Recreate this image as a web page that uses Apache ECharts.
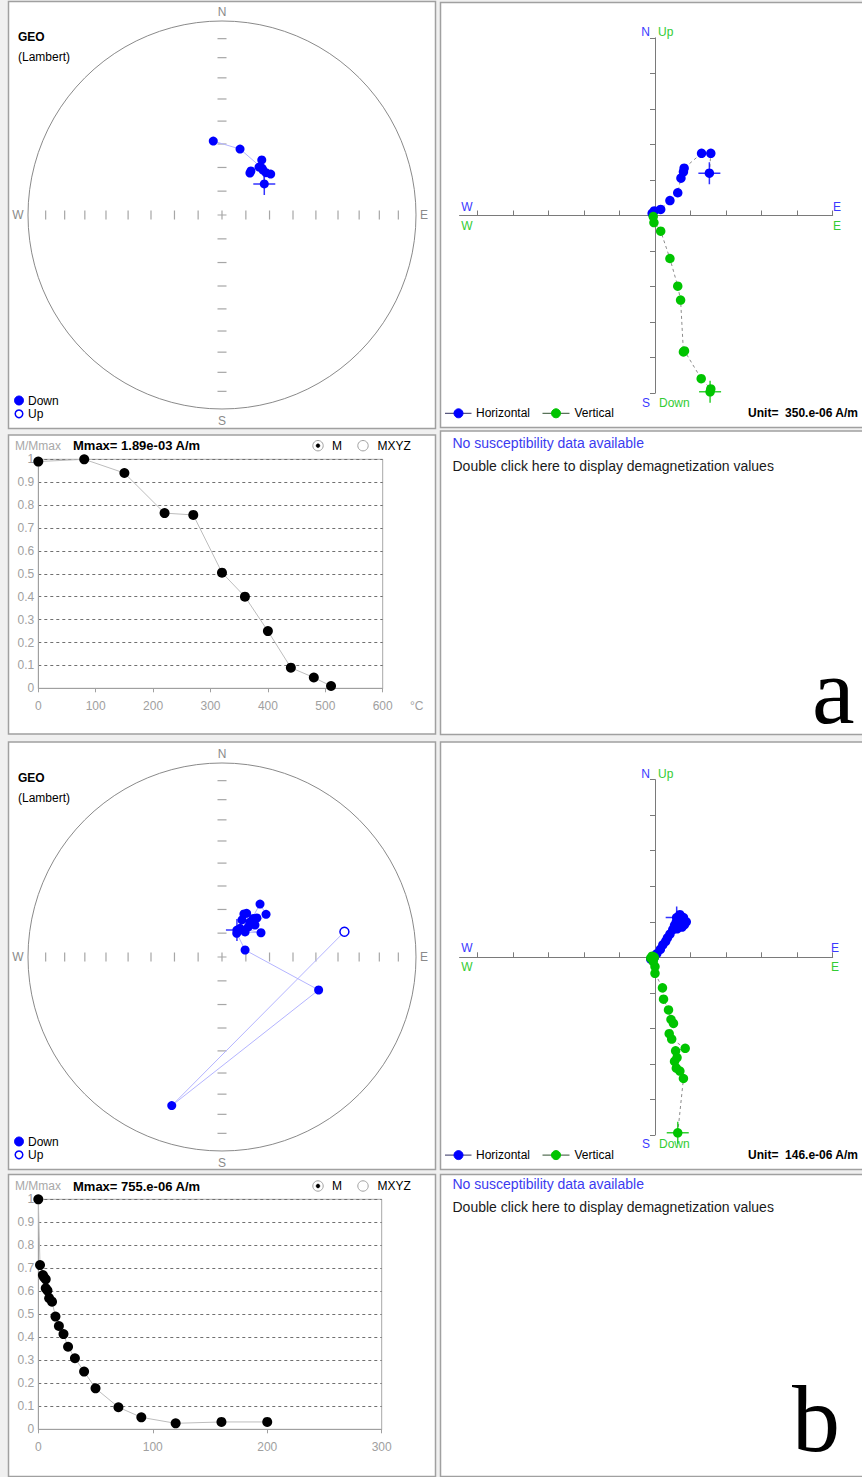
<!DOCTYPE html>
<html><head><meta charset="utf-8">
<script src="https://cdn.jsdelivr.net/npm/echarts@6/dist/echarts.min.js"></script>
<style>html,body{margin:0;padding:0;background:#f0f0f0;}#c{width:862px;height:1477px;}</style>
</head><body><div id="c"></div>
<script>
// ---------------- DATA ----------------
// Equal-area tick radii (10° .. 80° inclination), in units of the net radius
const stereoTicks = [0.123, 0.245, 0.366, 0.484, 0.598, 0.707, 0.811, 0.909];

// Specimen a : equal-area net positions [east, north] (net radius = 1), first = NRM
const stereoA = [[0.218,0.160],[0.211,0.232],[0.191,0.247],[0.149,0.227],[0.144,0.216],[0.205,0.284],
                 [0.227,0.218],[0.251,0.211],[0.206,0.242],[0.093,0.340],[-0.045,0.381]];
const stereoAUp = [0,0,0,0,0,0,0,0,0,0,0];
// Zijderveld (units of 350e-6 A/m): horizontal [E, N], vertical [E, Up]
const zijAH = [[1.53,1.19],[1.57,1.75],[1.31,1.75],[0.82,1.33],[0.80,1.23],[0.73,1.05],[0.64,0.64],
               [0.42,0.42],[0.16,0.17],[-0.02,0.13],[-0.08,0.06]];
const zijAV = [[1.55,-4.96],[1.57,-4.88],[1.30,-4.59],[0.83,-3.81],[0.80,-3.84],[0.72,-2.38],[0.64,-1.99],
               [0.42,-1.21],[0.16,-0.44],[-0.03,-0.20],[-0.05,-0.03]];
// Thermal demagnetization (°C) and M/Mmax
const demagAT = [0, 80, 150, 220, 270, 320, 360, 400, 440, 480, 510];
const demagAM = [0.99, 1.0, 0.94, 0.765, 0.757, 0.505, 0.40, 0.25, 0.09, 0.047, 0.01];

// Specimen b
const stereoB = [[0.077,0.139],[0.127,0.225],[0.161,0.199],[0.144,0.180],[0.196,0.273],[0.227,0.220],
                 [0.170,0.165],[0.136,0.156],[0.113,0.222],[0.103,0.191],[0.180,0.201],[0.093,0.148],
                 [0.201,0.125],[0.119,0.129],[0.076,0.122],[0.119,0.036],[0.498,-0.170],[-0.259,-0.766],[0.631,0.130]];
const stereoBUp = [0,0,0,0,0,0,0,0,0,0,0,0,0,0,0,0,0,0,1];
const zijBH = [[0.61,1.12],[0.80,1.12],[0.72,1.05],[0.88,1.00],[0.83,0.92],[0.70,1.20],[0.60,1.00],
               [0.76,0.85],[0.55,0.90],[0.62,0.80],[0.50,0.78],[0.42,0.65],[0.35,0.55],[0.30,0.45],
               [0.22,0.35],[0.15,0.22],[0.05,0.10],[-0.05,0.02],[-0.12,-0.05],[-0.08,-0.02],[-0.02,0.0]];
const zijBV = [[0.64,-4.94],[0.80,-3.41],[0.70,-3.20],[0.60,-3.12],[0.55,-2.93],[0.62,-2.82],[0.58,-2.63],
               [0.85,-2.56],[0.47,-2.30],[0.40,-2.15],[0.52,-1.86],[0.45,-1.75],[0.38,-1.48],[0.24,-1.18],
               [0.21,-0.86],[0.0,-0.45],[0.0,-0.26],[-0.05,-0.12],[-0.12,-0.02],[-0.08,0.03],[-0.02,0.0]];
const demagBT = [0, 1.5, 4, 5, 6.5, 6.5, 8, 9.5, 12, 15, 18, 22, 26, 32, 40, 50, 70, 90, 120, 160, 200];
const demagBM = [1.0, 0.714, 0.671, 0.661, 0.652, 0.613, 0.603, 0.570, 0.555, 0.49, 0.449, 0.414, 0.359,
                 0.309, 0.251, 0.178, 0.096, 0.052, 0.026, 0.032, 0.032];

const zijTicks = [-5,-4,-3,-2,-1,1,2,3,4,5];

// ---------------- LAYOUT ----------------
const FF = '"Liberation Sans", Arial, sans-serif';
const BLUE = '#0000ff', GREEN = '#00c400';
const R = 194;
const st = [{cx:222, cy:215}, {cx:222, cy:957}];
const U = 35.54;
const zj = [{ox:655, oy:215.5}, {ox:655, oy:957.3}];
const dm = [{l:38.3, t:459.3, w:344.4, h:229, max:600}, {l:38.3, t:1199.3, w:343.4, h:230, max:300}];
const CROSS = 'path://M10.25,0h1.5v22h-1.5zM0,10.25h22v1.5h-22z';

const grids = [], xAxes = [], yAxes = [], series = [];

function addStereo(k, pts, up) {
  const gi = grids.length;
  grids.push({left: st[k].cx - R, top: st[k].cy - R, width: 2*R, height: 2*R, show:false});
  xAxes.push({gridIndex: gi, type:'value', min:-1, max:1, show:false});
  yAxes.push({gridIndex: gi, type:'value', min:-1, max:1, show:false});
  const ax = {xAxisIndex: gi, yAxisIndex: gi};
  series.push(Object.assign({type:'scatter', silent:true, symbol:'rect', symbolSize:[1.2,9],
    itemStyle:{color:'#909090'}, data: stereoTicks.flatMap(r => [[r,0],[-r,0]]), z:2}, ax));
  series.push(Object.assign({type:'scatter', silent:true, symbol:'rect', symbolSize:[9,1.2],
    itemStyle:{color:'#909090'}, data: stereoTicks.flatMap(r => [[0,r],[0,-r]]), z:2}, ax));
  series.push(Object.assign({type:'scatter', silent:true, symbol:'path://M3.9,0h1.2v9h-1.2zM0,3.9h9v1.2h-9z', symbolSize:9,
    itemStyle:{color:'#909090'}, data: [[0,0]], z:2}, ax));
  series.push(Object.assign({type:'line', data: pts.map((p,i) => up[i] ?
      {value:p, itemStyle:{color:'#ffffff', borderColor:BLUE, borderWidth:1.5}} : {value:p}),
    symbol:'circle', symbolSize:9, showSymbol:true, lineStyle:{color:'#b4b4ff', width:1},
    itemStyle:{color:BLUE}, z:3}, ax));
  series.push(Object.assign({type:'scatter', data:[pts[0]], symbol:CROSS, symbolSize:22,
    itemStyle:{color:BLUE}, z:4}, ax));
}

function addZij(k, h, v) {
  const gi = grids.length;
  grids.push({left: zj[k].ox - 5.5*U, top: zj[k].oy - 5*U, width: 10.5*U, height: 10*U, show:false});
  xAxes.push({gridIndex: gi, type:'value', min:-5.5, max:5,
    axisLine:{show:true, onZero:true, lineStyle:{color:'#7a7a7a', width:1}},
    axisTick:{show:true, inside:true, length:5, customValues: zijTicks, lineStyle:{color:'#7a7a7a'}},
    axisLabel:{show:false}, splitLine:{show:false}});
  yAxes.push({gridIndex: gi, type:'value', min:-5, max:5, interval:1,
    axisLine:{show:true, onZero:true, lineStyle:{color:'#7a7a7a', width:1}},
    axisTick:{show:true, inside:false, length:5, lineStyle:{color:'#7a7a7a'}},
    axisLabel:{show:false}, splitLine:{show:false}});
  const ax = {xAxisIndex: gi, yAxisIndex: gi};
  const dash = {color:'#8c8c8c', width:1, type:[3,3]};
  series.push(Object.assign({type:'line', name:'Horizontal', data:h, symbol:'circle', symbolSize:9.5,
    lineStyle:dash, itemStyle:{color:BLUE}, z:3}, ax));
  series.push(Object.assign({type:'line', name:'Vertical', data:v, symbol:'circle', symbolSize:9.5,
    lineStyle:dash, itemStyle:{color:GREEN}, z:3}, ax));
  series.push(Object.assign({type:'scatter', data:[h[0]], symbol:CROSS, symbolSize:22, itemStyle:{color:BLUE}, z:4}, ax));
  series.push(Object.assign({type:'scatter', data:[v[0]], symbol:CROSS, symbolSize:22, itemStyle:{color:GREEN}, z:4}, ax));
}

function addDemag(k, xs, ys) {
  const gi = grids.length, d = dm[k];
  grids.push({left:d.l, top:d.t, width:d.w, height:d.h, show:true, borderColor:'#a8a8a8', borderWidth:1, backgroundColor:'#ffffff'});
  xAxes.push({gridIndex: gi, type:'value', min:0, max:d.max, interval:100,
    axisLine:{onZero:false, lineStyle:{color:'#a0a0a0'}}, axisTick:{show:true, length:4, lineStyle:{color:'#a0a0a0'}},
    axisLabel:{color:'#a0a0a0', fontSize:12, fontFamily:FF, margin:12}, splitLine:{show:false}});
  yAxes.push({gridIndex: gi, type:'value', min:0, max:1, interval:0.1,
    axisLine:{show:true, lineStyle:{color:'#a0a0a0'}}, axisTick:{show:false},
    axisLabel:{color:'#a0a0a0', fontSize:12, fontFamily:FF, margin:4},
    splitLine:{show:true, lineStyle:{color:'#707070', type:[3,3], width:1}}});
  series.push({type:'line', xAxisIndex:gi, yAxisIndex:gi, data: xs.map((x,i) => [x, ys[i]]),
    symbol:'circle', symbolSize:10, itemStyle:{color:'#000'}, lineStyle:{color:'#bdbdbd', width:1}, z:3});
}

addStereo(0, stereoA, stereoAUp);
addZij(0, zijAH, zijAV);
addDemag(0, demagAT, demagAM);
addStereo(1, stereoB, stereoBUp);
addZij(1, zijBH, zijBV);
addDemag(1, demagBT, demagBM);

// ---------------- GRAPHIC (frames & texts) ----------------
const g = [];
function rect(x,y,w,h){ g.push({type:'rect', z:-10, silent:true, shape:{x,y,width:w,height:h}, style:{fill:'#ffffff', stroke:'#a0a0a0', lineWidth:1.5}}); }
function txt(x,y,text,o){ o=o||{}; g.push({type:'text', z:50, silent:true, x, y,
  style:{text, fill:o.fill||'#000', font:(o.font||'12px')+' '+FF,
    align:o.align||'left', verticalAlign:'middle', textAlign:o.align||'left', textVerticalAlign:'middle'}}); }
function circ(cx,cy,r,fill,stroke,lw,z){ g.push({type:'circle', z:z==null?40:z, silent:true, shape:{cx,cy,r}, style:{fill, stroke, lineWidth:lw||1}}); }
function seg(x1,y1,x2,y2,color,lw){ g.push({type:'line', z:40, silent:true, shape:{x1,y1,x2,y2}, style:{stroke:color, lineWidth:lw||1}}); }

// panels
rect(8.5,1.5,427,427); rect(440.5,2.5,425,425); rect(8.5,435,427,299); rect(440.5,431,425,303.5);
rect(8.5,742,427,427.5); rect(440.5,742,425,427.5); rect(8.5,1174.5,427,302); rect(440.5,1174.5,425,302);

const mmax = ['Mmax= 1.89e-03 A/m', 'Mmax= 755.e-06 A/m'];
const units = ['Unit=  350.e-06 A/m', 'Unit=  146.e-06 A/m'];
for (let k = 0; k < 2; k++) {
  const s = st[k], oy = k === 0 ? 0 : 741;
  // stereonet
  circ(s.cx, s.cy, R, 'none', '#8a8a8a', 1, 1);
  txt(s.cx, s.cy - R - 9, 'N', {fill:'#8a8a8a', align:'center', font:'12px'});
  txt(s.cx, s.cy + R + 12, 'S', {fill:'#8a8a8a', align:'center', font:'12px'});
  txt(18, s.cy, 'W', {fill:'#8a8a8a', align:'center', font:'12px'});
  txt(424, s.cy, 'E', {fill:'#8a8a8a', align:'center', font:'12px'});
  txt(18, 37 + oy, 'GEO', {font:'bold 12px'});
  txt(18, 57 + oy, '(Lambert)', {font:'12px'});
  circ(19, 400.5 + oy, 4.5, BLUE, BLUE, 1);
  txt(28, 400.5 + oy, 'Down', {font:'12px'});
  circ(19, 413.8 + oy, 3.8, '#ffffff', BLUE, 1.5);
  txt(28, 413.8 + oy, 'Up', {font:'12px'});
  // Zijderveld labels
  const zy = k === 0 ? 0 : 741.8;
  txt(650, 31.7 + zy, 'N', {fill:'#3a3aff', align:'right', font:'12px'});
  txt(658, 31.7 + zy, 'Up', {fill:'#33cc33', font:'12px'});
  txt(650, 402.5 + zy, 'S', {fill:'#3a3aff', align:'right', font:'12px'});
  txt(659, 402.5 + zy, 'Down', {fill:'#33cc33', font:'12px'});
  txt(467, 206.5 + zy, 'W', {fill:'#3a3aff', align:'center', font:'12px'});
  txt(467, 225.5 + zy, 'W', {fill:'#33cc33', align:'center', font:'12px'});
  txt(k === 0 ? 837 : 835, 206.5 + zy, 'E', {fill:'#3a3aff', align:'center', font:'12px'});
  txt(k === 0 ? 837 : 835, 225.5 + zy, 'E', {fill:'#33cc33', align:'center', font:'12px'});
  const ly = 413.3 + zy;
  seg(445, ly, 471.5, ly, '#303060', 1); circ(458.5, ly, 4.5, BLUE, BLUE, 1);
  txt(476, ly, 'Horizontal', {font:'12px'});
  seg(542.5, ly, 569.5, ly, '#305030', 1); circ(556, ly, 4.5, GREEN, GREEN, 1);
  txt(574.5, ly, 'Vertical', {font:'12px'});
  txt(858, ly, units[k], {font:'bold 12px', align:'right'});
  // demag labels
  const dy = k === 0 ? 445.7 : 1186;
  txt(15, dy, 'M/Mmax', {fill:'#a8a8a8', font:'12px'});
  txt(73, dy, mmax[k], {font:'bold 13px'});
  circ(318, dy, 5.2, '#ffffff', '#a0a0a0', 1);
  circ(318, dy, 1.9, '#000000', '#000000', 0.5, 41);
  txt(332, dy, 'M', {font:'12px'});
  circ(363, dy, 5.2, '#ffffff', '#a0a0a0', 1);
  txt(377.5, dy, 'MXYZ', {font:'12px'});
  // text panel
  const ty = k === 0 ? 442.5 : 1183.5;
  txt(452.5, ty, 'No susceptibility data available', {fill:'#3b3bf0', font:'14px'});
  txt(452.5, ty + 23, 'Double click here to display demagnetization values', {fill:'#1a1a1a', font:'14px'});
}
txt(410, 706, '°C', {fill:'#a0a0a0', font:'12px'});
g.push({type:'text', z:60, silent:true, x:812, y:690, style:{text:'a', fill:'#000',
  font:'96px "Liberation Serif", "DejaVu Serif", serif', align:'left', verticalAlign:'middle', textAlign:'left', textVerticalAlign:'middle'}});
g.push({type:'text', z:60, silent:true, x:792, y:1418, style:{text:'b', fill:'#000',
  font:'96px "Liberation Serif", "DejaVu Serif", serif', align:'left', verticalAlign:'middle', textAlign:'left', textVerticalAlign:'middle'}});

const chart = echarts.init(document.getElementById('c'), null, {renderer:'svg', width:862, height:1477});
chart.setOption({
  backgroundColor:'#f0f0f0',
  animation:false,
  textStyle:{fontFamily:FF},
  grid: grids, xAxis: xAxes, yAxis: yAxes, series: series,
  graphic: {elements: g}
});
</script>
</body></html>
